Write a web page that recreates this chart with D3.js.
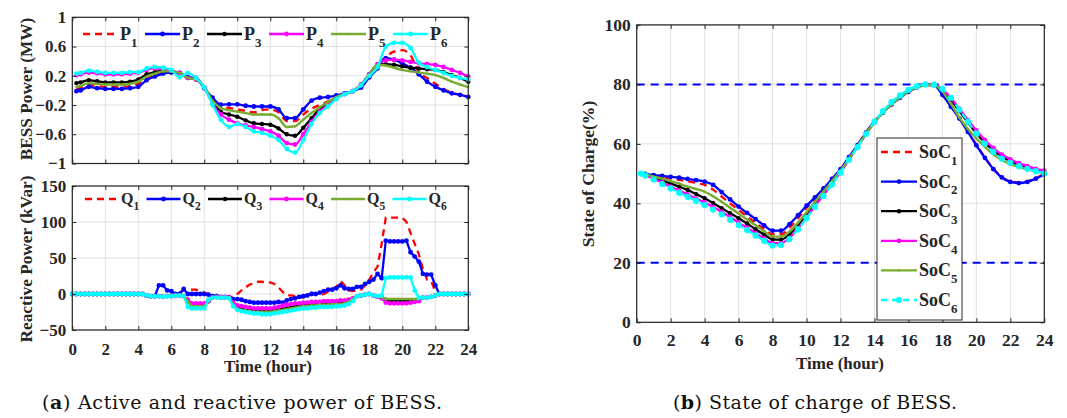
<!DOCTYPE html>
<meta charset="utf-8">
<style>
body { margin: 0; background: #fff; }
</style>
<script src="https://cdn.jsdelivr.net/npm/d3@7"></script>
<body>
<script>
// time axes
const halfHours = [0.25].concat(d3.range(0.5, 24.01, 0.5));
const quarterHours = d3.range(0, 24.01, 0.25);
const hourTicks = d3.range(0, 25, 2);
const pTicks = [1, 0.6, 0.2, -0.2, -0.6, -1];
const qTicks = [150, 100, 50, 0, -50];
const socTicks = [0, 20, 40, 60, 80, 100];
const socLimits = [80, 20];
const unitIds = ['1', '2', '3', '4', '5', '6'];

// active power (MW), half-hour samples
const P1 = [0.02,0.03,0.08,0.06,0.05,0.05,0.05,0.06,0.09,0.16,
  0.21,0.25,0.26,0.24,0.17,0.15,0.04,-0.12,-0.22,-0.24,
  -0.26,-0.28,-0.30,-0.27,-0.26,-0.30,-0.42,-0.42,-0.33,-0.25,
  -0.20,-0.15,-0.09,-0.05,-0.01,0.07,0.21,0.34,0.46,0.53,
  0.55,0.48,0.25,0.17,0.09,0.02,-0.03,-0.06,-0.09];
const P2 = [-0.01,0.00,0.05,0.03,0.02,0.02,0.02,0.03,0.05,0.14,
  0.19,0.23,0.245,0.24,0.18,0.17,0.03,-0.10,-0.195,-0.19,
  -0.19,-0.21,-0.22,-0.22,-0.22,-0.26,-0.38,-0.38,-0.26,-0.14,
  -0.10,-0.09,-0.07,-0.04,-0.01,0.04,0.18,0.30,0.44,0.42,
  0.37,0.31,0.22,0.12,0.05,0.00,-0.04,-0.06,-0.09];
const P3 = [0.10,0.11,0.14,0.125,0.11,0.11,0.11,0.12,0.15,0.22,
  0.25,0.27,0.26,0.24,0.17,0.15,0.04,-0.16,-0.29,-0.33,
  -0.36,-0.41,-0.45,-0.46,-0.47,-0.52,-0.60,-0.62,-0.51,-0.38,
  -0.25,-0.18,-0.10,-0.05,-0.01,0.08,0.22,0.35,0.36,0.35,
  0.33,0.31,0.30,0.29,0.28,0.25,0.21,0.17,0.12];
const P4 = [0.21,0.22,0.245,0.235,0.22,0.22,0.22,0.23,0.24,0.28,
  0.30,0.29,0.27,0.24,0.17,0.15,0.04,-0.18,-0.33,-0.40,
  -0.45,-0.48,-0.50,-0.53,-0.56,-0.62,-0.72,-0.74,-0.60,-0.43,
  -0.29,-0.20,-0.11,-0.05,-0.01,0.08,0.22,0.36,0.41,0.42,
  0.41,0.39,0.37,0.36,0.35,0.32,0.28,0.24,0.19];
const P5 = [0.05,0.06,0.10,0.09,0.08,0.08,0.08,0.09,0.12,0.19,
  0.23,0.26,0.26,0.24,0.17,0.15,0.05,-0.14,-0.24,-0.27,
  -0.29,-0.31,-0.33,-0.33,-0.33,-0.38,-0.50,-0.49,-0.40,-0.31,
  -0.23,-0.16,-0.09,-0.05,-0.01,0.08,0.22,0.35,0.34,0.31,
  0.28,0.26,0.245,0.23,0.21,0.17,0.12,0.08,0.045];
const P6 = [0.23,0.24,0.27,0.255,0.24,0.24,0.24,0.25,0.25,0.30,
  0.32,0.31,0.28,0.18,0.24,0.17,0.04,-0.20,-0.40,-0.50,
  -0.46,-0.50,-0.56,-0.58,-0.62,-0.68,-0.80,-0.85,-0.68,-0.46,
  -0.31,-0.22,-0.12,-0.05,-0.01,0.07,0.20,0.32,0.60,0.65,
  0.65,0.58,0.38,0.32,0.28,0.24,0.20,0.17,0.15];

// reactive power (kVar), quarter-hour samples, one row per hour
const Q1 = [0,0,0,0, 0,0,0,0, 0,0,0,0, 0,0,0,0,
  0,0,-2,-3, -3,-3,-2,-2, -1,0,2,5, 6,6,6,5,
  2,0,-3,-4, -4,-4,-4,-4, 0,5,9,13, 15,17,17,16,
  16,14,9,3, -2,-2,-3,-4, -5,-2,2,0, -2,0,3,7,
  10,18,12,5, 4,5,6,12, 20,30,38,70, 106,106,106,106,
  106,100,85,70, 55,35,20,18, 3,0,0,0, 0,0,0,0, 0];
const Q2 = [0,0,0,0, 0,0,0,0, 0,0,0,0, 0,0,0,0,
  0,0,-2,-3, -3,12,12,5, 4,0,0,7, 0,0,0,0,
  0,-1,-3,-3, -5,-5,-5,-7, -7,-8,-10,-11, -12,-12,-12,-12,
  -12,-12,-11,-12, -9,-7,-6,-4, -3,-2,0,0, 2,4,6,6,
  8,12,8,7, 7,10,10,14, 17,20,28,22, 74,73,73,73,
  73,74,58,52, 45,28,27,27, 12,0,0,0, 0,0,0,0, 0];
const Q3 = [0,0,0,0, 0,0,0,0, 0,0,0,0, 0,0,0,0,
  0,0,-2,-3, -3,-3,-4,-3, -3,-2,-2,-3, -10,-16,-16,-16,
  -16,-10,-5,-4, -4,-4,-5,-14, -19,-20,-21,-22, -23,-24,-24,-24,
  -24,-23,-22,-21, -20,-19,-18,-17, -16,-16,-15,-15, -14,-14,-14,-13,
  -13,-13,-12,-10, -7,-3,-2,-1, 0,-2,-4,-5, -8,-9,-9,-9,
  -9,-9,-9,-9, -8,-5,-5,-4, -2,0,0,0, 0,0,0,0, 0];
const Q4 = [0,0,0,0, 0,0,0,0, 0,0,0,0, 0,0,0,0,
  0,0,-2,-3, -3,-3,-4,-3, -3,-2,-2,-3, -8,-13,-13,-13,
  -13,-10,-5,-4, -4,-4,-5,-12, -16,-17,-18,-19, -20,-20,-20,-20,
  -20,-19,-18,-16, -15,-14,-13,-13, -12,-12,-11,-11, -11,-10,-10,-10,
  -10,-9,-9,-8, -6,-3,-2,-1, 0,-2,-4,-6, -12,-13,-13,-13,
  -13,-13,-12,-11, -10,-5,-5,-4, -2,0,0,0, 0,0,0,0, 0];
const Q5 = [0,0,0,0, 0,0,0,0, 0,0,0,0, 0,0,0,0,
  0,0,-2,-3, -3,-3,-4,-3, -3,-2,-2,-3, -10,-17,-17,-17,
  -17,-10,-5,-4, -4,-4,-5,-15, -21,-22,-23,-24, -25,-25,-25,-25,
  -25,-24,-23,-22, -21,-20,-19,-18, -17,-17,-16,-16, -15,-15,-15,-14,
  -14,-14,-13,-11, -7,-3,-2,-1, 0,-2,-4,-5, -7,-7,-7,-7,
  -7,-7,-7,-7, -7,-5,-5,-4, -2,0,0,0, 0,0,0,0, 0];
const Q6 = [0,0,0,0, 0,0,0,0, 0,0,0,0, 0,0,0,0,
  0,0,-2,-3, -3,-3,-4,-3, -3,-2,-2,-3, -18,-20,-20,-20,
  -20,-8,-5,-5, -5,-5,-6,-17, -22,-24,-25,-26, -27,-27,-28,-28,
  -28,-27,-26,-25, -24,-23,-22,-21, -20,-20,-19,-19, -18,-18,-18,-18,
  -17,-17,-16,-14, -10,-3,-2,-1, 0,-2,-3,-2, 22,23,23,23,
  23,23,23,5, -5,-5,-5,-4, -2,0,0,0, 0,0,0,0, 0];

// state of charge (%), half-hour samples
const SoC1 = [50,49.8,49.3,48.8,48.3,47.9,47.4,46.9,46.2,44.6,
  42.3,40.0,37.8,35.6,33.4,31.4,29.6,29.6,31.8,35.0,
  38.5,41.5,44.6,47.9,51.3,55.4,59.5,63.7,67.4,70.5,
  73.2,75.5,77.5,79.0,79.8,79.8,76.7,72.7,68.7,64.2,
  59.7,55.5,51.7,48.9,47.4,47.0,47.4,48.5,49.9];
const SoC2 = [50,49.9,49.5,49.2,48.9,48.6,48.2,47.8,47.3,46.2,
  43.8,41.3,38.9,36.8,34.7,32.6,30.8,30.8,33.0,36.0,
  39.2,42.0,45.0,48.2,51.5,55.5,59.6,63.8,67.5,70.5,
  73.2,75.5,77.5,79.0,79.8,79.8,76.5,72.5,68.5,64.0,
  59.5,55.3,51.5,48.7,47.2,46.8,47.2,48.3,49.8];
const SoC3 = [50,49.6,48.7,47.7,46.7,45.6,44.5,43.1,41.7,40.1,
  38.4,36.7,35.0,33.2,31.3,29.5,27.9,27.8,29.6,32.6,
  36.2,39.9,43.5,47.1,50.8,54.9,59.1,63.4,67.3,70.6,
  73.4,75.8,77.8,79.2,79.9,79.8,78.0,74.8,71.0,67.2,
  63.6,60.4,57.8,55.7,54.2,53.0,52.0,51.2,50.6];
const SoC4 = [50,49.5,48.3,47.0,45.6,44.3,43.0,41.6,40.3,38.8,
  37.2,35.4,33.5,31.8,30.0,28.2,26.6,26.6,28.4,31.6,
  35.3,39.1,42.8,46.6,50.5,54.7,59.0,63.3,67.3,70.7,
  73.5,75.9,77.9,79.3,79.9,79.9,78.4,75.4,71.8,68.0,
  64.5,61.3,58.6,56.4,54.8,53.5,52.5,51.6,51.0];
const SoC5 = [50,49.7,49.0,48.3,47.5,46.6,45.6,44.8,43.9,42.4,
  40.5,38.5,36.6,34.6,32.6,30.6,28.9,28.8,30.5,33.5,
  37.0,40.5,44.0,47.5,51.0,55.0,59.2,63.4,67.2,70.5,
  73.2,75.6,77.6,79.0,79.8,79.8,77.6,73.5,68.8,65.0,
  61.8,59.0,56.5,54.6,53.2,52.2,51.4,50.7,50.1];
const SoC6 = [50,49.4,48.0,46.5,45.0,43.6,42.2,40.8,39.4,37.9,
  36.3,34.5,32.7,31.0,29.2,27.4,25.8,26.0,28.0,31.3,
  35.0,38.8,42.5,46.3,50.3,54.6,58.9,63.3,67.5,71.0,
  74.0,76.3,78.2,79.4,80.0,79.9,78.5,75.5,71.5,67.5,
  63.5,60.0,57.3,55.0,53.6,52.5,51.6,50.8,50.1];

const pSeries = [P1, P2, P3, P4, P5, P6];
const qSeries = [Q1, Q2, Q3, Q4, Q5, Q6];
const socSeries = [SoC1, SoC2, SoC3, SoC4, SoC5, SoC6];

const serif = '"Liberation Serif", "Times New Roman", serif';
const ink = '#262626';
const styles = [
  {color: '#ff0000', width: 2.3, dash: '7,5', r: 0},
  {color: '#0000ff', width: 2.3, r: 2.4},
  {color: '#000000', width: 2.3, r: 2.2},
  {color: '#ff00ff', width: 2.3, r: 2.4},
  {color: '#77ac30', width: 2.4, r: 1.2},
  {color: '#00ffff', width: 2.3, r: 2.4}
];
const socStyles = styles.map((s, i) => i === 5 ? {color: '#00ffff', width: 2.3, dash: '6,5', r: 3.1} : s);

const svg = d3.select('body').append('svg')
  .attr('width', 1067).attr('height', 418)
  .style('background', '#fff');

function makeAxes(box, yDomain, yTicks) {
  const x = d3.scaleLinear().domain([0, 24]).range([box.left, box.right]);
  const y = d3.scaleLinear().domain(yDomain).range([box.bottom, box.top]);
  const grid = svg.append('g').attr('stroke', '#dadada').attr('stroke-width', 0.8);
  grid.selectAll('.gx').data(hourTicks).join('line')
    .attr('x1', d => x(d)).attr('x2', d => x(d))
    .attr('y1', box.top).attr('y2', box.bottom);
  grid.selectAll('.gy').data(yTicks).join('line')
    .attr('y1', d => y(d)).attr('y2', d => y(d))
    .attr('x1', box.left).attr('x2', box.right);
  return {x, y, box, yTicks};
}

function frame(ax, fs, showX, xPad) {
  const {x, y, box, yTicks} = ax;
  const g = svg.append('g');
  g.append('g').attr('transform', `translate(${box.left},0)`)
    .call(d3.axisLeft(y).tickValues(yTicks).tickFormat(d3.format('')).tickSizeInner(-4).tickSizeOuter(0).tickPadding(6));
  g.append('g').attr('transform', `translate(${box.right},0)`)
    .call(d3.axisRight(y).tickValues(yTicks).tickFormat('').tickSizeInner(-4).tickSizeOuter(0));
  const bottom = d3.axisBottom(x).tickValues(hourTicks).tickSizeInner(-4).tickSizeOuter(0).tickPadding(xPad);
  if (!showX) bottom.tickFormat('');
  g.append('g').attr('transform', `translate(0,${box.bottom})`).call(bottom);
  g.append('g').attr('transform', `translate(0,${box.top})`)
    .call(d3.axisTop(x).tickValues(hourTicks).tickFormat('').tickSizeInner(-4).tickSizeOuter(0));
  g.selectAll('.domain').remove();
  g.selectAll('.tick line').attr('stroke', ink).attr('stroke-width', 1);
  g.selectAll('.tick text')
    .attr('font-family', serif).attr('font-weight', 'bold')
    .attr('font-size', fs).attr('fill', ink);
  g.append('rect')
    .attr('x', box.left).attr('y', box.top)
    .attr('width', box.right - box.left).attr('height', box.bottom - box.top)
    .attr('fill', 'none').attr('stroke', ink).attr('stroke-width', 1.2);
}

function drawSeries(ax, times, values, s, curve) {
  const line = d3.line().x((d, i) => ax.x(times[i])).y(d => ax.y(d)).curve(curve);
  svg.append('path').datum(values)
    .attr('d', line).attr('fill', 'none')
    .attr('stroke', s.color).attr('stroke-width', s.width)
    .attr('stroke-dasharray', s.dash || null);
  if (s.r) {
    svg.append('g').selectAll('circle').data(values).join('circle')
      .attr('cx', (d, i) => ax.x(times[i])).attr('cy', d => ax.y(d))
      .attr('r', s.r).attr('fill', s.color);
  }
}

function legendEntry(lx, ly, len, s, base, id, fs) {
  svg.append('line')
    .attr('x1', lx).attr('x2', lx + len).attr('y1', ly).attr('y2', ly)
    .attr('stroke', s.color).attr('stroke-width', s.width)
    .attr('stroke-dasharray', s.dash || null);
  if (s.r) svg.append('circle').attr('cx', lx + len / 2).attr('cy', ly).attr('r', s.r).attr('fill', s.color);
  const t = svg.append('text')
    .attr('x', lx + len + 2).attr('y', ly + fs * 0.33)
    .attr('font-family', serif).attr('font-weight', 'bold')
    .attr('font-size', fs).attr('fill', ink)
    .text(base);
  t.append('tspan').attr('dy', fs * 0.38).attr('font-size', fs * 0.72).text(id);
}

function yTitle(x, y, text, fs) {
  svg.append('text')
    .attr('transform', `translate(${x},${y}) rotate(-90)`)
    .attr('text-anchor', 'middle')
    .attr('font-family', serif).attr('font-weight', 'bold')
    .attr('font-size', fs).attr('fill', ink)
    .text(text);
}

function xTitle(x, y, text, fs) {
  svg.append('text')
    .attr('x', x).attr('y', y).attr('text-anchor', 'middle')
    .attr('font-family', serif).attr('font-weight', 'bold')
    .attr('font-size', fs).attr('fill', ink)
    .text(text);
}

// (a) top: active power
const axP = makeAxes({left: 72.3, right: 468.3, top: 17.3, bottom: 163.5}, [-1, 1], pTicks);
pSeries.forEach((v, i) => drawSeries(axP, halfHours, v, styles[i], d3.curveMonotoneX));
frame(axP, 17, false, 0);
unitIds.forEach((id, i) => legendEntry(83 + i * 62, 34, 35, styles[i], 'P', id, 18));
yTitle(32, 89, 'BESS Power (MW)', 17.3);

// (a) bottom: reactive power
const axQ = makeAxes({left: 72.3, right: 468.3, top: 186, bottom: 330}, [-50, 150], qTicks);
qSeries.forEach((v, i) => drawSeries(axQ, quarterHours, v, styles[i], d3.curveLinear));
frame(axQ, 17, true, 13);
unitIds.forEach((id, i) => legendEntry(85 + i * 61.5, 199, 34, styles[i], 'Q', id, 16));
yTitle(32, 259, 'Reactive Power (kVar)', 17.3);
xTitle(268, 372, 'Time (hour)', 17);

// (b) state of charge
const axS = makeAxes({left: 636.7, right: 1044.3, top: 24.9, bottom: 322.3}, [0, 100], socTicks);
svg.append('g').selectAll('line').data(socLimits).join('line')
  .attr('x1', axS.x(0)).attr('x2', axS.x(24))
  .attr('y1', d => axS.y(d)).attr('y2', d => axS.y(d))
  .attr('stroke', '#0000ff').attr('stroke-width', 2).attr('stroke-dasharray', '8,6');
socSeries.forEach((v, i) => drawSeries(axS, halfHours, v, socStyles[i], d3.curveMonotoneX));
frame(axS, 17.5, true, 11);
svg.append('rect').attr('x', 877).attr('y', 138).attr('width', 85).attr('height', 182)
  .attr('fill', '#fff').attr('stroke', ink).attr('stroke-width', 1);
unitIds.forEach((id, i) => legendEntry(881, 152 + i * 29.6, 36, socStyles[i], 'SoC', id, 18));
yTitle(594, 174, 'State of Charge(%)', 17.6);
xTitle(840, 369, 'Time (hour)', 17);

// captions
function caption(x, y, letter, text, width) {
  const t = svg.append('text').attr('x', x).attr('y', y)
    .attr('font-family', '"DejaVu Serif", serif').attr('font-size', 19).attr('fill', '#111')
    .attr('textLength', width).attr('lengthAdjust', 'spacing');
  t.append('tspan').text('(');
  t.append('tspan').attr('font-weight', 'bold').text(letter);
  t.append('tspan').text(') ' + text);
}
caption(42, 409, 'a', 'Active and reactive power of BESS.', 400);
caption(673, 409, 'b', 'State of charge of BESS.', 284);
</script>
</body>
</html>
